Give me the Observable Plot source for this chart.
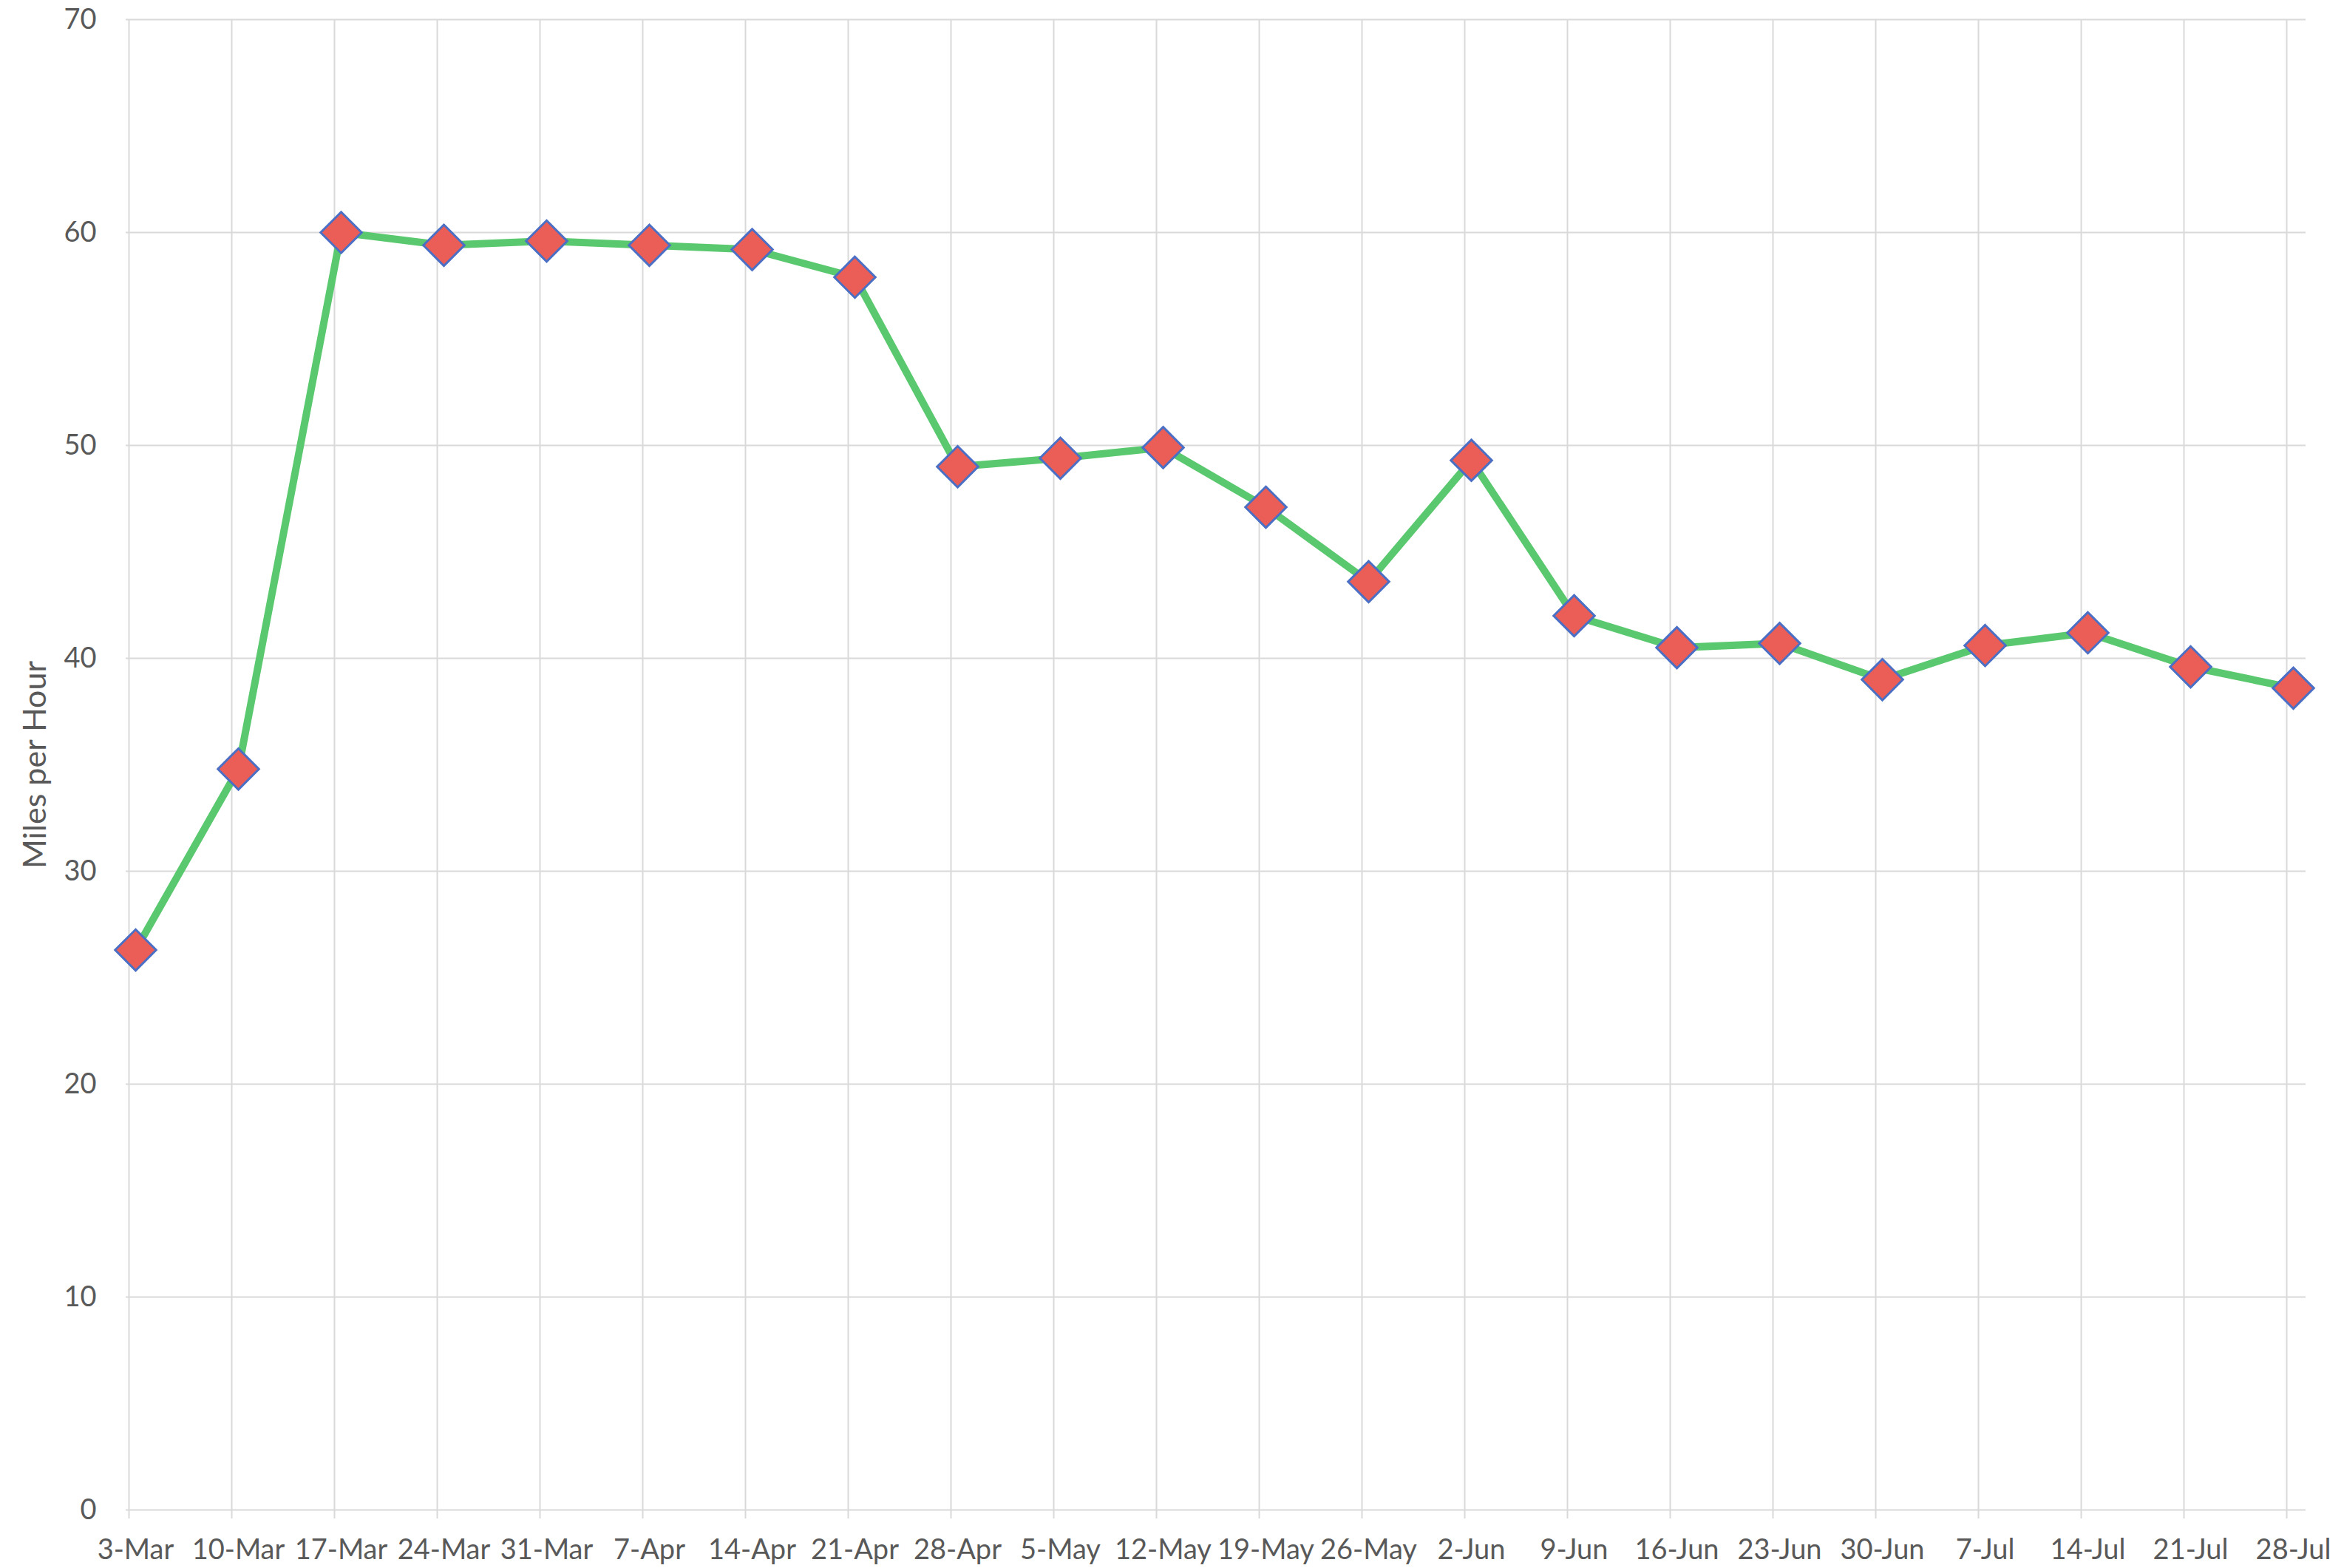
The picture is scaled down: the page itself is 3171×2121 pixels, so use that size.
<!DOCTYPE html>
<html>
<head>
<meta charset="utf-8">
<script src="https://cdn.jsdelivr.net/npm/d3@7"></script>
<script src="https://cdn.jsdelivr.net/npm/@observablehq/plot@0.6"></script>
<style>
  html, body { margin: 0; padding: 0; background: #ffffff; }
  svg { display: block; }
</style>
</head>
<body>
<div id="chart"></div>
<script>
const dates = ["3-Mar","10-Mar","17-Mar","24-Mar","31-Mar","7-Apr","14-Apr","21-Apr","28-Apr","5-May","12-May","19-May","26-May","2-Jun","9-Jun","16-Jun","23-Jun","30-Jun","7-Jul","14-Jul","21-Jul","28-Jul"];
const mph = [26.3, 34.8, 60.0, 59.4, 59.6, 59.4, 59.2, 57.9, 49.0, 49.4, 49.9, 47.1, 43.6, 49.3, 42.0, 40.5, 40.7, 39.0, 40.6, 41.2, 39.6, 38.6];
const yTicks = [0, 10, 20, 30, 40, 50, 60, 70];
const yTitle = "Miles per Hour";

const data = dates.map((d, i) => ({date: d, mph: mph[i]}));

const textColor = "#595959";
const gridColor = "#d9d9d9";

const chart = Plot.plot({
  width: 3171,
  height: 2121,
  marginLeft: 170,
  marginRight: 52,
  marginTop: 26,
  marginBottom: 79,
  style: {fontFamily: "Lato, 'Open Sans', sans-serif", fontSize: "38px", color: textColor, background: "#ffffff"},
  x: {type: "point", domain: dates, padding: 0, insetLeft: 9, insetRight: 13},
  y: {domain: [0, 70]},
  marks: [
    Plot.gridY(yTicks, {stroke: gridColor, strokeOpacity: 1, strokeWidth: 2}),
    Plot.gridX(dates, {stroke: gridColor, strokeOpacity: 1, strokeWidth: 2, dx: -9}),
    Plot.axisX(dates, {tickSize: 12, fill: "none", stroke: gridColor, strokeWidth: 2, dx: -9, label: null}),
    Plot.axisX(dates, {tickSize: 0, tickPadding: 40, fill: textColor, label: null, fontSize: 38}),
    Plot.axisY(yTicks, {tickSize: 0, tickPadding: 40, fill: textColor, label: null, fontSize: 38}),
    Plot.text([yTitle], {frameAnchor: "left", textAnchor: "middle", rotate: -90, dx: -122, fontSize: 43, fill: textColor}),
    Plot.line(data, {x: "date", y: "mph", stroke: "#5ac86e", strokeWidth: 10, strokeLinejoin: "round"}),
    Plot.dot(data, {x: "date", y: "mph", symbol: "diamond2", r: 25, fill: "#ea5e57", stroke: "#4a6fc4", strokeWidth: 3})
  ]
});

document.getElementById("chart").appendChild(chart);
</script>
</body>
</html>
